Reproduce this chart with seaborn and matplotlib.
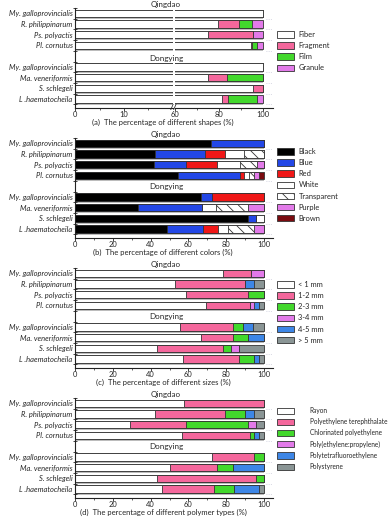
import numpy as np
import pandas as pd
import matplotlib
matplotlib.use("Agg")
import matplotlib.pyplot as plt
from matplotlib.patches import Patch
from matplotlib.ticker import FixedLocator
import seaborn as sns

sns.set_style("ticks")
plt.rcParams["font.family"] = ["Lato", "DejaVu Sans"]
plt.rcParams["hatch.linewidth"] = 0.6

# ---- data (percentages per species) ----
species = ["My. galloprovincialis", "R. philippinarum", "Ps. polyactis", "Pl. cornutus",
           "My. galloprovincialis", "Ma. veneriformis", "S. schlegeli", "L .haematocheila"]
rows = [0, 1, 2, 3, 5, 6, 7, 8]

shape_labels = ["Fiber", "Fragment", "Film", "Granule"]
shape_fiber = [100, 79.3, 75.1, 94.5, 100, 75.0, 95.5, 81.1]
shape_fragment = [0, 9.8, 20.4, 0.5, 0, 8.4, 4.5, 2.7]
shape_film = [0, 5.6, 0, 2.0, 0, 16.6, 0, 13.2]
shape_granule = [0, 5.3, 4.5, 3.0, 0, 0, 0, 3.0]

color_labels = ["Black", "Blue", "Red", "White", "Transparent", "Purple", "Brown"]
col_black = [71.7, 42.4, 41.7, 54.2, 66.8, 33.4, 91.7, 48.8]
col_blue = [28.3, 26.2, 16.8, 33.1, 5.5, 33.7, 4.1, 18.7]
col_red = [0, 10.7, 16.6, 2.3, 27.7, 0, 0, 8.3]
col_white = [0, 10.1, 12.5, 2.6, 0, 7.5, 4.2, 5.3]
col_transparent = [0, 10.6, 8.5, 2.7, 0, 17.1, 0, 13.6]
col_purple = [0, 0, 3.9, 2.4, 0, 8.3, 0, 5.3]
col_brown = [0, 0, 0, 2.7, 0, 0, 0, 0]

size_labels = ["< 1 mm", "1-2 mm", "2-3 mm", "3-4 mm", "4-5 mm", "> 5 mm"]
size_lt1 = [78.3, 53.0, 58.5, 69.4, 55.7, 66.8, 43.5, 56.9]
size_1_2 = [14.8, 36.8, 33.2, 23.0, 27.7, 16.6, 34.9, 29.7]
size_2_3 = [0, 0, 8.3, 0, 5.6, 8.3, 4.1, 8.1]
size_3_4 = [6.9, 0, 0, 2.5, 0, 0, 4.4, 0]
size_4_5 = [0, 5.1, 0, 2.4, 5.3, 8.3, 0, 2.5]
size_gt5 = [0, 5.1, 0, 2.7, 5.7, 0, 13.1, 2.8]

polymer_labels = ["Rayon", "Polyethylene terephthalate", "Chlorinated polyethylene",
                  "Poly(ethylene:propylene)", "Polytetrafluoroethylene", "Polystyrene"]
poly_rayon = [57.4, 42.4, 29.2, 56.5, 72.3, 50.0, 43.5, 46.1]
poly_pet = [42.6, 36.8, 29.3, 35.9, 22.2, 25.1, 52.3, 27.2]
poly_cpe = [0, 10.8, 33.2, 2.5, 5.5, 8.3, 4.2, 10.8]
poly_pp = [0, 0, 4.1, 0, 0, 0, 0, 0]
poly_ptfe = [0, 4.9, 0, 2.4, 0, 16.6, 0, 13.4]
poly_ps = [0, 5.1, 4.2, 2.7, 0, 0, 0, 2.5]

# ---- styles ----
WHITE, PINK, GREEN, VIOLET = "#ffffff", "#f4679c", "#42d82c", "#e27ae9"
BLUE2, GRAY = "#3d86e6", "#8a9595"
EDGE = "#333333"
W, H = 391, 518

shape_colors = [WHITE, PINK, GREEN, VIOLET]
color_colors = ["#000000", "#2347e6", "#f01717", WHITE, WHITE, VIOLET, "#7a0b10"]
color_hatch = [None, None, None, None, "\\\\\\", None, None]
size_colors = [WHITE, PINK, GREEN, VIOLET, BLUE2, GRAY]
poly_colors = [WHITE, PINK, GREEN, VIOLET, BLUE2, GRAY]


def fx(px):
    return px / W


def fy(py):
    return 1 - py / H


def stacked(ax, parts, colors, hatches=None):
    cum = np.cumsum(np.array(parts, dtype=float), axis=0)
    ax.hlines([r + 0.44 for r in rows], 0, 100, color="#a8a8a8", lw=1.1, zorder=0.5)
    for k in reversed(range(len(parts))):
        df = pd.DataFrame({"pct": cum[k], "row": rows})
        kw = {}
        if hatches is not None and hatches[k]:
            kw["hatch"] = hatches[k]
        sns.barplot(data=df, x="pct", y="row", orient="h", native_scale=True,
                    color=colors[k], saturation=1, edgecolor=EDGE, linewidth=0.6,
                    width=0.68, errorbar=None, ax=ax, **kw)
    ax.set_xlabel("")
    ax.set_ylabel("")
    ax.set_ylim(8.84, -0.5)


def style_axes(ax, left=True):
    sns.despine(ax=ax, left=not left)
    for s in ax.spines.values():
        s.set_linewidth(0.8)
        s.set_color("#222222")
    ax.tick_params(axis="x", which="major", length=2, width=0.6, labelsize=5.4, pad=0.4)
    ax.tick_params(axis="x", which="minor", length=1.5, width=0.5)
    if left:
        ax.set_yticks(rows)
        ax.set_yticklabels(species, fontstyle="italic", fontsize=5.4)
        ax.yaxis.set_minor_locator(FixedLocator(np.arange(-0.5, 9, 1.0)))
        ax.tick_params(axis="y", which="major", length=0, pad=2)
        ax.tick_params(axis="y", which="minor", length=2.5, width=0.6, direction="inout")
    else:
        ax.set_yticks([])
        ax.tick_params(axis="y", which="both", length=0)


def add_legend(labels, colors, top_px, hatches=None, fontsize=5.4, textpad=0.6):
    handles = []
    for i, (lab, c) in enumerate(zip(labels, colors)):
        h = hatches[i] if hatches is not None and hatches[i] else None
        handles.append(Patch(facecolor=c, edgecolor=EDGE, linewidth=0.6, hatch=h, label=lab))
    fig.legend(handles=handles, loc="upper left", bbox_to_anchor=(fx(277), fy(top_px)),
               frameon=False, fontsize=fontsize, handlelength=17 * 72 / 100 / fontsize,
               handleheight=7 * 72 / 100 / fontsize,
               labelspacing=0.55 * 5.4 / fontsize, handletextpad=textpad,
               borderaxespad=0, borderpad=0)


fig = plt.figure(figsize=(W / 100, H / 100), dpi=100)

tops = [8, 138, 268, 398]
ax_h = 100
x0, x1 = 75.3, 273.3

# ---- panel (a): broken axis ----
top = tops[0]
axl = fig.add_axes([fx(x0), fy(top + ax_h), fx(172.7 - x0), ax_h / H])
axr = fig.add_axes([fx(175), fy(top + ax_h), fx(x1 - 175), ax_h / H])
shape_parts = [shape_fiber, shape_fragment, shape_film, shape_granule]
for ax in (axl, axr):
    stacked(ax, shape_parts, shape_colors)
axl.set_xlim(0, 20)
axr.set_xlim(60, 104.5)
style_axes(axl, left=True)
style_axes(axr, left=False)
axl.set_xticks([0, 10])
axl.set_xticklabels(["0", "10"])
axl.xaxis.set_minor_locator(FixedLocator([5, 15]))
axr.set_xticks([60, 80, 100])
axr.xaxis.set_minor_locator(FixedLocator([70, 90]))
axr.hlines([r + 0.5 for r in rows], 101, 104.5, color="#c8c8d8", lw=0.6, linestyles=":")
fig.text(fx(173.8), fy(top + ax_h), "//", ha="center", va="center", fontsize=6, fontweight="bold")
fig.text(fx(166), fy(top - 3), "Qingdao", ha="center", va="center", fontsize=5.8)
fig.text(fx(166), fy(top + 50), "Dongying", ha="center", va="center", fontsize=5.8)
fig.text(fx(163), fy(top + 114), "(a)  The percentage of different shapes (%)",
         ha="center", va="center", fontsize=5.5)
add_legend(shape_labels, shape_colors, top + 23)

# ---- panels (b)-(d) ----
panels = [
    ([col_black, col_blue, col_red, col_white, col_transparent, col_purple, col_brown],
     color_colors, color_hatch, color_labels, "(b)  The percentage of different colors (%)"),
    ([size_lt1, size_1_2, size_2_3, size_3_4, size_4_5, size_gt5],
     size_colors, None, size_labels, "(c)  The percentage of different sizes (%)"),
    ([poly_rayon, poly_pet, poly_cpe, poly_pp, poly_ptfe, poly_ps],
     poly_colors, None, polymer_labels, "(d)  The percentage of different polymer types (%)"),
]
legend_tops = [148, 281, 407]
legend_fs = [5.4, 5.4, 4.7]
legend_pad = [0.6, 0.6, 2.4]
for i, (parts, cols, hatches, labels, title) in enumerate(panels):
    top = tops[i + 1]
    ax = fig.add_axes([fx(x0), fy(top + ax_h), fx(x1 - x0), ax_h / H])
    stacked(ax, parts, cols, hatches)
    ax.set_xlim(0, 105)
    style_axes(ax, left=True)
    ax.set_xticks([0, 20, 40, 60, 80, 100])
    ax.xaxis.set_minor_locator(FixedLocator([10, 30, 50, 70, 90]))
    ax.hlines([r + 0.5 for r in rows], 101, 105, color="#c8c8d8", lw=0.6, linestyles=":")
    ax.text(48, -0.8, "Qingdao", ha="center", va="center", fontsize=5.8, clip_on=False)
    ax.text(48, 4.05, "Dongying", ha="center", va="center", fontsize=5.8)
    fig.text(fx(163), fy(top + 114), title, ha="center", va="center", fontsize=5.5)
    add_legend(labels, cols, legend_tops[i], hatches, legend_fs[i], legend_pad[i])

fig.savefig("out.png", dpi=100, facecolor="white")
